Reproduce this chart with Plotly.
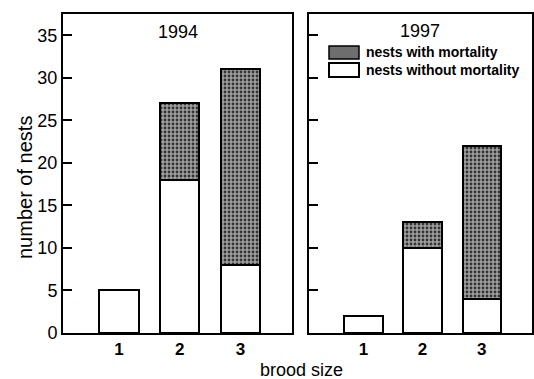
import plotly.graph_objects as go

brood_sizes = [1, 2, 3]
without_1994 = [5, 18, 8]
with_1994 = [0, 9, 23]
without_1997 = [2, 10, 4]
with_1997 = [0, 3, 18]
panel_titles = ["1994", "1997"]
y_ticks = [0, 5, 10, 15, 20, 25, 30, 35]
legend_labels = ["nests with mortality", "nests without mortality"]

W, H = 534, 379
FONT = "Liberation Sans"
GRAY = "#8c8c8c"

def px(x):
    return x / W

def py(y):
    return 1 - y / H

fig = go.Figure()

def add_bars(xa, ya, without, withm):
    fig.add_trace(go.Bar(x=brood_sizes, y=without, xaxis=xa, yaxis=ya, width=0.65,
                         marker=dict(color="white", line=dict(color="black", width=2)),
                         showlegend=False, hoverinfo="skip"))
    fig.add_trace(go.Bar(x=brood_sizes, y=withm, xaxis=xa, yaxis=ya, width=0.65,
                         marker=dict(color=GRAY, line=dict(color="black", width=2),
                                     pattern=dict(shape=".", fgcolor="#333333", bgcolor="#a0a0a0",
                                                  size=4, solidity=0.4, fillmode="replace")),
                         showlegend=False, hoverinfo="skip"))

add_bars("x", "y", without_1994, with_1994)
add_bars("x2", "y2", without_1997, with_1997)

yrange = [0, 37.5]
xrange = [0.08, 3.85]
ydom = [py(333), py(14)]

common_x = dict(range=xrange, tickvals=brood_sizes,
                ticktext=["<b>" + str(b) + "</b>" for b in brood_sizes],
                showline=True, linecolor="black", linewidth=2, mirror=True, ticks="",
                showgrid=False, zeroline=False, automargin=False,
                tickfont=dict(family=FONT, size=17, color="black"))
common_y = dict(range=yrange, tickvals=y_ticks, showline=True, linecolor="black", linewidth=2,
                mirror=True, ticks="inside", ticklen=9, tickwidth=2, tickcolor="black",
                showgrid=False, zeroline=False, automargin=False,
                tickfont=dict(family=FONT, size=18, color="black"))

fig.update_layout(
    width=W, height=H, margin=dict(l=0, r=0, t=0, b=0, autoexpand=False),
    paper_bgcolor="white", plot_bgcolor="white", barmode="stack", bargap=0,
    showlegend=False,
    xaxis=dict(domain=[px(63), px(292)], anchor="y", **common_x),
    yaxis=dict(domain=ydom, anchor="x", ticktext=[str(t) for t in y_ticks], **common_y),
    xaxis2=dict(domain=[px(309), px(532)], anchor="y2", **common_x),
    yaxis2=dict(domain=ydom, anchor="x2", showticklabels=False, **common_y),
)

def ann(text, x, y, size, xanchor="center", angle=0):
    return dict(text=text, x=px(x), y=py(y), xref="paper", yref="paper",
                xanchor=xanchor, yanchor="middle", textangle=angle, showarrow=False,
                font=dict(family=FONT, size=size, color="black"))

annotations = [
    ann(panel_titles[0], 178, 32, 18),
    ann(panel_titles[1], 420, 31, 18),
    ann("number of nests", 25, 188, 20, angle=-90),
    ann("brood size", 301, 370, 18),
    ann("<b>" + legend_labels[0] + "</b>", 364, 52, 14, xanchor="left"),
    ann("<b>" + legend_labels[1] + "</b>", 364, 70, 14, xanchor="left"),
]
fig.update_layout(annotations=annotations)

shapes = [
    dict(type="rect", xref="paper", yref="paper", x0=px(329), x1=px(359), y0=py(59), y1=py(46),
         fillcolor="#6e6e6e", line=dict(color="black", width=1.5)),
    dict(type="rect", xref="paper", yref="paper", x0=px(329), x1=px(359), y0=py(77), y1=py(63),
         fillcolor="white", line=dict(color="black", width=2)),
]
fig.update_layout(shapes=shapes)

fig.write_html("out.html", config={"displayModeBar": False},
               post_script="document.body.style.margin='0';")
